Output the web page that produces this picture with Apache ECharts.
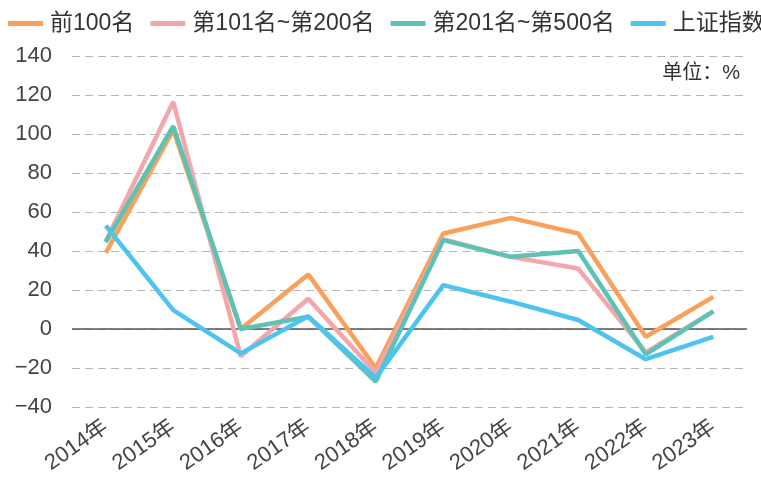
<!DOCTYPE html>
<html><head><meta charset="utf-8">
<script src="https://cdn.jsdelivr.net/npm/echarts@6/dist/echarts.min.js"></script>
<style>html,body{margin:0;padding:0;background:#fff;overflow:hidden}#c{width:761px;height:483px}</style>
</head><body><div id="c"></div>
<script>
var categories = ['2014年','2015年','2016年','2017年','2018年','2019年','2020年','2021年','2022年','2023年'];
var seriesNames = ['前100名','第101名~第200名','第201名~第500名','上证指数'];
var top100 = [39, 102, 0, 28, -20, 49, 57, 49, -4, 16.5];
var rank101to200 = [45, 116.5, -14, 15.5, -22.5, 46, 37, 31, -12, 9];
var rank201to500 = [44.5, 104, 0, 6.3, -27, 45.6, 37, 40, -13, 9];
var shIndex = [53, 9.7, -12.5, 6.5, -25, 22.5, 14, 4.6, -15.5, -4];
var colors = ['#F9A05B', '#F4A7AA', '#5CC2B4', '#4DC3EF'];
var font = '"Liberation Sans", "Noto Sans CJK SC", sans-serif';

var chart = echarts.init(document.getElementById('c'));
var dataSets = [top100, rank101to200, rank201to500, shIndex];
var series = dataSets.map(function (d, i) {
  var s = {
    name: seriesNames[i], type: 'line', data: d, symbol: 'none',
    lineStyle: { width: 4.5, color: colors[i] }, itemStyle: { color: colors[i] },
    z: 3 + i
  };
  if (i === 0) {
    s.markLine = {
      silent: true, symbol: 'none', label: { show: false },
      lineStyle: { color: '#555', width: 1.5, type: 'solid' },
      data: [{ yAxis: 0 }], z: 1
    };
  }
  return s;
});
chart.setOption({
  animation: false,
  color: colors,
  textStyle: { fontFamily: font },
  legend: {
    left: 8, top: 12, width: 1200, itemWidth: 35, itemHeight: 5, itemGap: 16,
    icon: 'rect', padding: 0,
    textStyle: { fontSize: 23, color: '#333', fontFamily: font, padding: [0, 0, 0, 2] },
    data: seriesNames
  },
  graphic: [{
    type: 'text', right: 21, top: 63,
    style: { text: '单位：%', fontSize: 20, fill: '#333', fontFamily: font }
  }],
  grid: { left: 72, right: 14, top: 56, bottom: 76, containLabel: false },
  xAxis: {
    type: 'category', data: categories, boundaryGap: true,
    axisLine: { show: false }, axisTick: { show: false },
    axisLabel: { rotate: 35, fontSize: 22, color: '#444', margin: 18, interval: 0 }
  },
  yAxis: {
    type: 'value', min: -40, max: 140, interval: 20,
    axisLine: { show: false }, axisTick: { show: false },
    axisLabel: { fontSize: 22, color: '#444', margin: 20,
      formatter: function (v) { return String(v).replace('-', '\u2212'); } },
    splitLine: { lineStyle: { color: '#b5b5b5', type: [8, 5], width: 1.2 } }
  },
  series: series
});
</script></body></html>
